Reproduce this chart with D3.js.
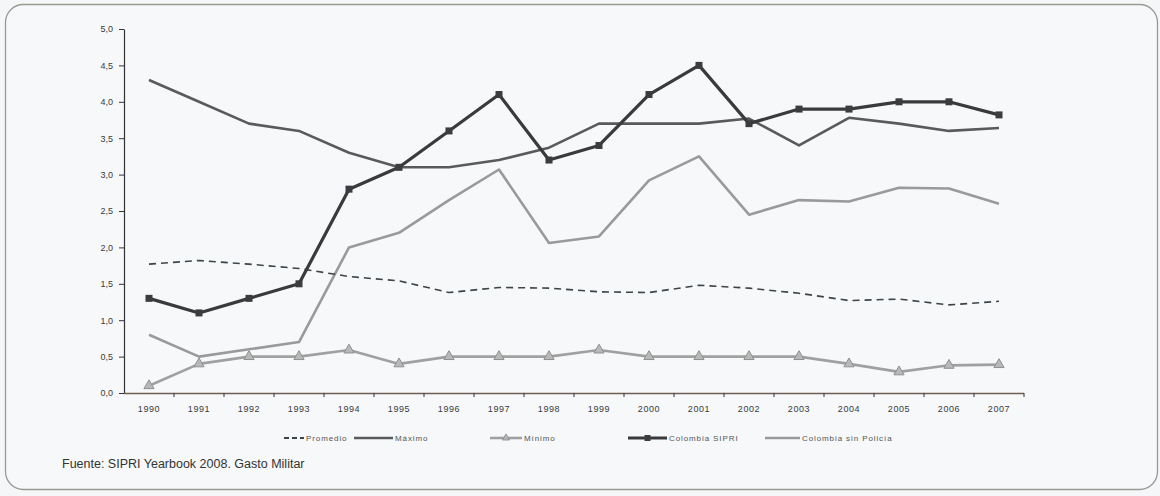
<!DOCTYPE html>
<html>
<head>
<meta charset="utf-8">
<script src="https://cdn.jsdelivr.net/npm/d3@7"></script>
<style>
  html, body { margin: 0; padding: 0; background: #ffffff; }
  svg { display: block; }
</style>
</head>
<body>
<svg id="chart" width="1160" height="496"></svg>
<script>
// Gasto militar como % del PIB, 1990-2007
const years = ["1990","1991","1992","1993","1994","1995","1996","1997","1998","1999","2000","2001","2002","2003","2004","2005","2006","2007"];
const promedio = [1.77,1.82,1.77,1.71,1.60,1.54,1.38,1.45,1.44,1.39,1.38,1.48,1.44,1.37,1.27,1.29,1.21,1.26];
const maximo = [4.30,4.00,3.70,3.60,3.30,3.10,3.10,3.20,3.37,3.70,3.70,3.70,3.77,3.40,3.78,3.70,3.60,3.64];
const minimo = [0.10,0.40,0.50,0.50,0.59,0.40,0.50,0.50,0.50,0.59,0.50,0.50,0.50,0.50,0.40,0.29,0.38,0.39];
const colombiaSipri = [1.30,1.10,1.30,1.50,2.80,3.10,3.60,4.10,3.20,3.40,4.10,4.50,3.70,3.90,3.90,4.00,4.00,3.82];
const colombiaSinPolicia = [0.80,0.50,0.60,0.70,2.00,2.20,2.65,3.07,2.06,2.15,2.92,3.25,2.45,2.65,2.63,2.82,2.81,2.60];
const yTicks = [0,0.5,1,1.5,2,2.5,3,3.5,4,4.5,5];
const legendLabels = ["Promedio","Máximo","Mínimo","Colombia SIPRI","Colombia sin Policía"];
const sourceText = "Fuente: SIPRI Yearbook 2008. Gasto Militar";

const svg = d3.select("#chart");
const font = "Liberation Sans, Arial, sans-serif";

// panel background with rounded frame
svg.append("rect").attr("x", 0).attr("y", 0).attr("width", 1160).attr("height", 496).attr("fill", "#f4f6f8");
svg.append("rect")
  .attr("x", 5.5).attr("y", 4.5).attr("width", 1152).attr("height", 485)
  .attr("rx", 18).attr("ry", 18)
  .attr("fill", "#f6f8fa").attr("stroke", "#9a9a94").attr("stroke-width", 1.3);

const x = d3.scaleBand().domain(years).range([124, 1024]);
const y = d3.scaleLinear().domain([0, 5]).range([393, 29]);
const cx = d => x(d) + x.bandwidth() / 2;
const fmt = v => d3.format(".1f")(v).replace(".", ",");

// y axis
const yAxis = svg.append("g").attr("transform", "translate(124,0)")
  .call(d3.axisLeft(y).tickValues(yTicks).tickFormat(fmt).tickSize(5).tickSizeOuter(0));
yAxis.select(".domain").attr("stroke", "#333").attr("stroke-width", 1.2);
yAxis.selectAll(".tick line").attr("stroke", "#333");
yAxis.selectAll(".tick text")
  .attr("font-family", font).attr("font-size", 9)
  .attr("fill", "#3a3a3a").attr("x", -11);

// x axis with ticks between categories
const xAxis = svg.append("g").attr("transform", "translate(0,393)");
xAxis.append("line").attr("x1", 124).attr("x2", 1024).attr("y1", 0.5).attr("y2", 0.5)
  .attr("stroke", "#6e5e56").attr("stroke-width", 1.3);
xAxis.selectAll("line.tk").data(years)
  .join("line").attr("class", "tk")
  .attr("x1", d => x(d) + x.step()).attr("x2", d => x(d) + x.step())
  .attr("y1", 0).attr("y2", 4).attr("stroke", "#333");
xAxis.selectAll("text").data(years).join("text")
  .attr("x", d => cx(d)).attr("y", 19).attr("text-anchor", "middle")
  .attr("font-family", font).attr("font-size", 9).attr("letter-spacing", 0.6)
  .attr("fill", "#3a3a3a").text(d => d);

const lineGen = d3.line().x((d, i) => cx(years[i])).y(d => y(d));

const series = [
  { name: "Colombia sin Policía", values: colombiaSinPolicia, color: "#9a9a9a", width: 2.6 },
  { name: "Máximo", values: maximo, color: "#5a5a5a", width: 2.6 },
  { name: "Promedio", values: promedio, color: "#3d4448", width: 1.6, dash: "7,5" },
  { name: "Mínimo", values: minimo, color: "#a0a0a0", width: 2.6, marker: "triangle" },
  { name: "Colombia SIPRI", values: colombiaSipri, color: "#3a3a3a", width: 3.2, marker: "square" }
];

series.forEach(s => {
  svg.append("path").datum(s.values)
    .attr("d", lineGen).attr("fill", "none")
    .attr("stroke", s.color).attr("stroke-width", s.width)
    .attr("stroke-linejoin", "round")
    .attr("stroke-dasharray", s.dash || null);
  if (s.marker === "square") {
    svg.append("g").selectAll("rect").data(s.values).join("rect")
      .attr("x", (d, i) => cx(years[i]) - 3.5).attr("y", d => y(d) - 3.5)
      .attr("width", 7).attr("height", 7).attr("fill", "#3a3d3f");
  }
  if (s.marker === "triangle") {
    svg.append("g").selectAll("path").data(s.values).join("path")
      .attr("transform", (d, i) => `translate(${cx(years[i])},${y(d)})`)
      .attr("d", d3.symbol().type(d3.symbolTriangle).size(45))
      .attr("fill", "#b8b8b8").attr("stroke", "#909090").attr("stroke-width", 1);
  }
});

// legend
const legendItems = [
  { label: legendLabels[0], color: "#3d4448", width: 1.8, dash: "5,3", x1: 284, x2: 304 },
  { label: legendLabels[1], color: "#5a5a5a", width: 2.6, x1: 354, x2: 393 },
  { label: legendLabels[2], color: "#a0a0a0", width: 2.6, x1: 490, x2: 522, marker: true },
  { label: legendLabels[3], color: "#3a3a3a", width: 3, x1: 628, x2: 667, square: true },
  { label: legendLabels[4], color: "#9a9a9a", width: 2.6, x1: 765, x2: 800 }
];
const lg = svg.append("g");
legendItems.forEach(it => {
  lg.append("line").attr("x1", it.x1).attr("x2", it.x2).attr("y1", 438).attr("y2", 438)
    .attr("stroke", it.color).attr("stroke-width", it.width)
    .attr("stroke-dasharray", it.dash || null);
  if (it.marker) {
    lg.append("path").attr("transform", `translate(${(it.x1 + it.x2) / 2},438)`)
      .attr("d", d3.symbol().type(d3.symbolTriangle).size(22))
      .attr("fill", "#b4b4b4").attr("stroke", "#8c8c8c").attr("stroke-width", 0.8);
  }
  if (it.square) {
    lg.append("rect").attr("x", (it.x1 + it.x2) / 2 - 3).attr("y", 435)
      .attr("width", 6).attr("height", 6).attr("fill", "#3a3d3f");
  }
  lg.append("text").attr("x", it.x2 + 2).attr("y", 441)
    .attr("font-family", font).attr("font-size", 8).attr("letter-spacing", 0.9)
    .attr("fill", "#555").text(it.label);
});

// source note
svg.append("text").attr("x", 62).attr("y", 468)
  .attr("font-family", font).attr("font-size", 12.5)
  .attr("fill", "#333").text(sourceText);
</script>
</body>
</html>
